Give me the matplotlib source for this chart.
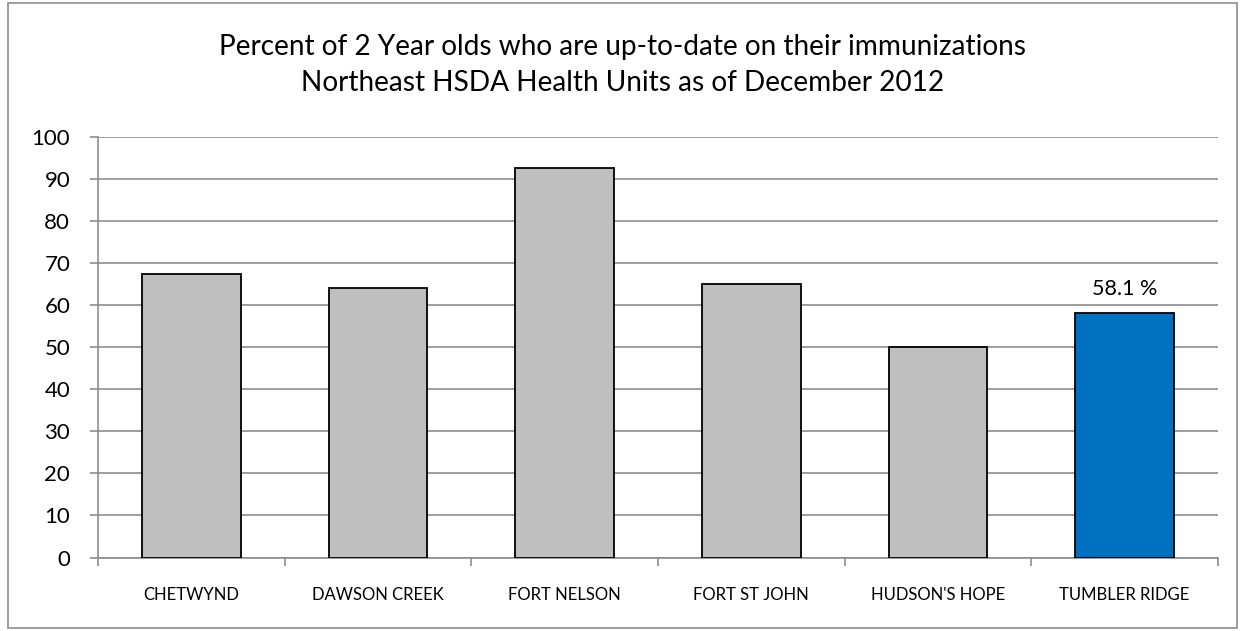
import matplotlib
matplotlib.use("Agg")
import matplotlib.pyplot as plt
from matplotlib.patches import Rectangle

categories = ["CHETWYND", "DAWSON CREEK", "FORT NELSON", "FORT ST JOHN", "HUDSON'S HOPE", "TUMBLER RIDGE"]
values = [67.3, 64.0, 92.5, 65.0, 50.0, 58.1]
colors = ["#bfbfbf"] * 5 + ["#0070c0"]
title_lines = ["Percent of 2 Year olds who are up-to-date on their immunizations",
               "Northeast HSDA Health Units as of December 2012"]
yticks = list(range(0, 101, 10))

plt.rcParams['font.family'] = ['Lato', 'DejaVu Sans']

fig = plt.figure(figsize=(12.45, 6.31), dpi=100)
W, H = 1245, 631
ax = fig.add_axes([98 / W, 1 - 557.5 / H, (1218 - 98) / W, (557.5 - 136.7) / H])

x = list(range(len(categories)))
ax.bar(x, values, width=0.527, color=colors, edgecolor="black", linewidth=1.3, zorder=3)
ax.set_xlim(-0.5, len(categories) - 0.5)
ax.set_ylim(0, 100)
ax.set_yticks(yticks)
ax.set_yticklabels([str(t) for t in yticks], fontsize=16)
ax.yaxis.grid(True, color="#8c8c8c", linewidth=1.2, zorder=0)
ax.set_axisbelow(True)
ax.tick_params(axis="y", direction="out", length=6, color="#8c8c8c", width=1.2, pad=14)

ax.set_xticks(x)
ax.set_xticklabels(categories, fontsize=12)
ax.tick_params(axis="x", length=0, pad=21)
ax.set_xticks([i + 0.5 for i in range(-1, len(categories))], minor=True)
ax.tick_params(axis="x", which="minor", direction="out", length=6, color="#8c8c8c", width=1.2)

for s in ["top", "right"]:
    ax.spines[s].set_visible(False)
for s in ["left", "bottom"]:
    ax.spines[s].set_color("#8c8c8c")
    ax.spines[s].set_linewidth(1.2)

ax.text(x[-1], values[-1] + 3.4, f"{values[-1]:.1f} %", ha="center", va="bottom", fontsize=15.5)

fig.text(0.5, 1 - 47 / H, title_lines[0], ha="center", va="center", fontsize=20.2)
fig.text(0.5, 1 - 83 / H, title_lines[1], ha="center", va="center", fontsize=20.2)

fig.add_artist(Rectangle((8 / W, 3 / H), (1237 - 8) / W, (628 - 3) / H, transform=fig.transFigure,
                         fill=False, edgecolor="#8c8c8c", linewidth=1.2))

fig.savefig("out.png", dpi=100)
